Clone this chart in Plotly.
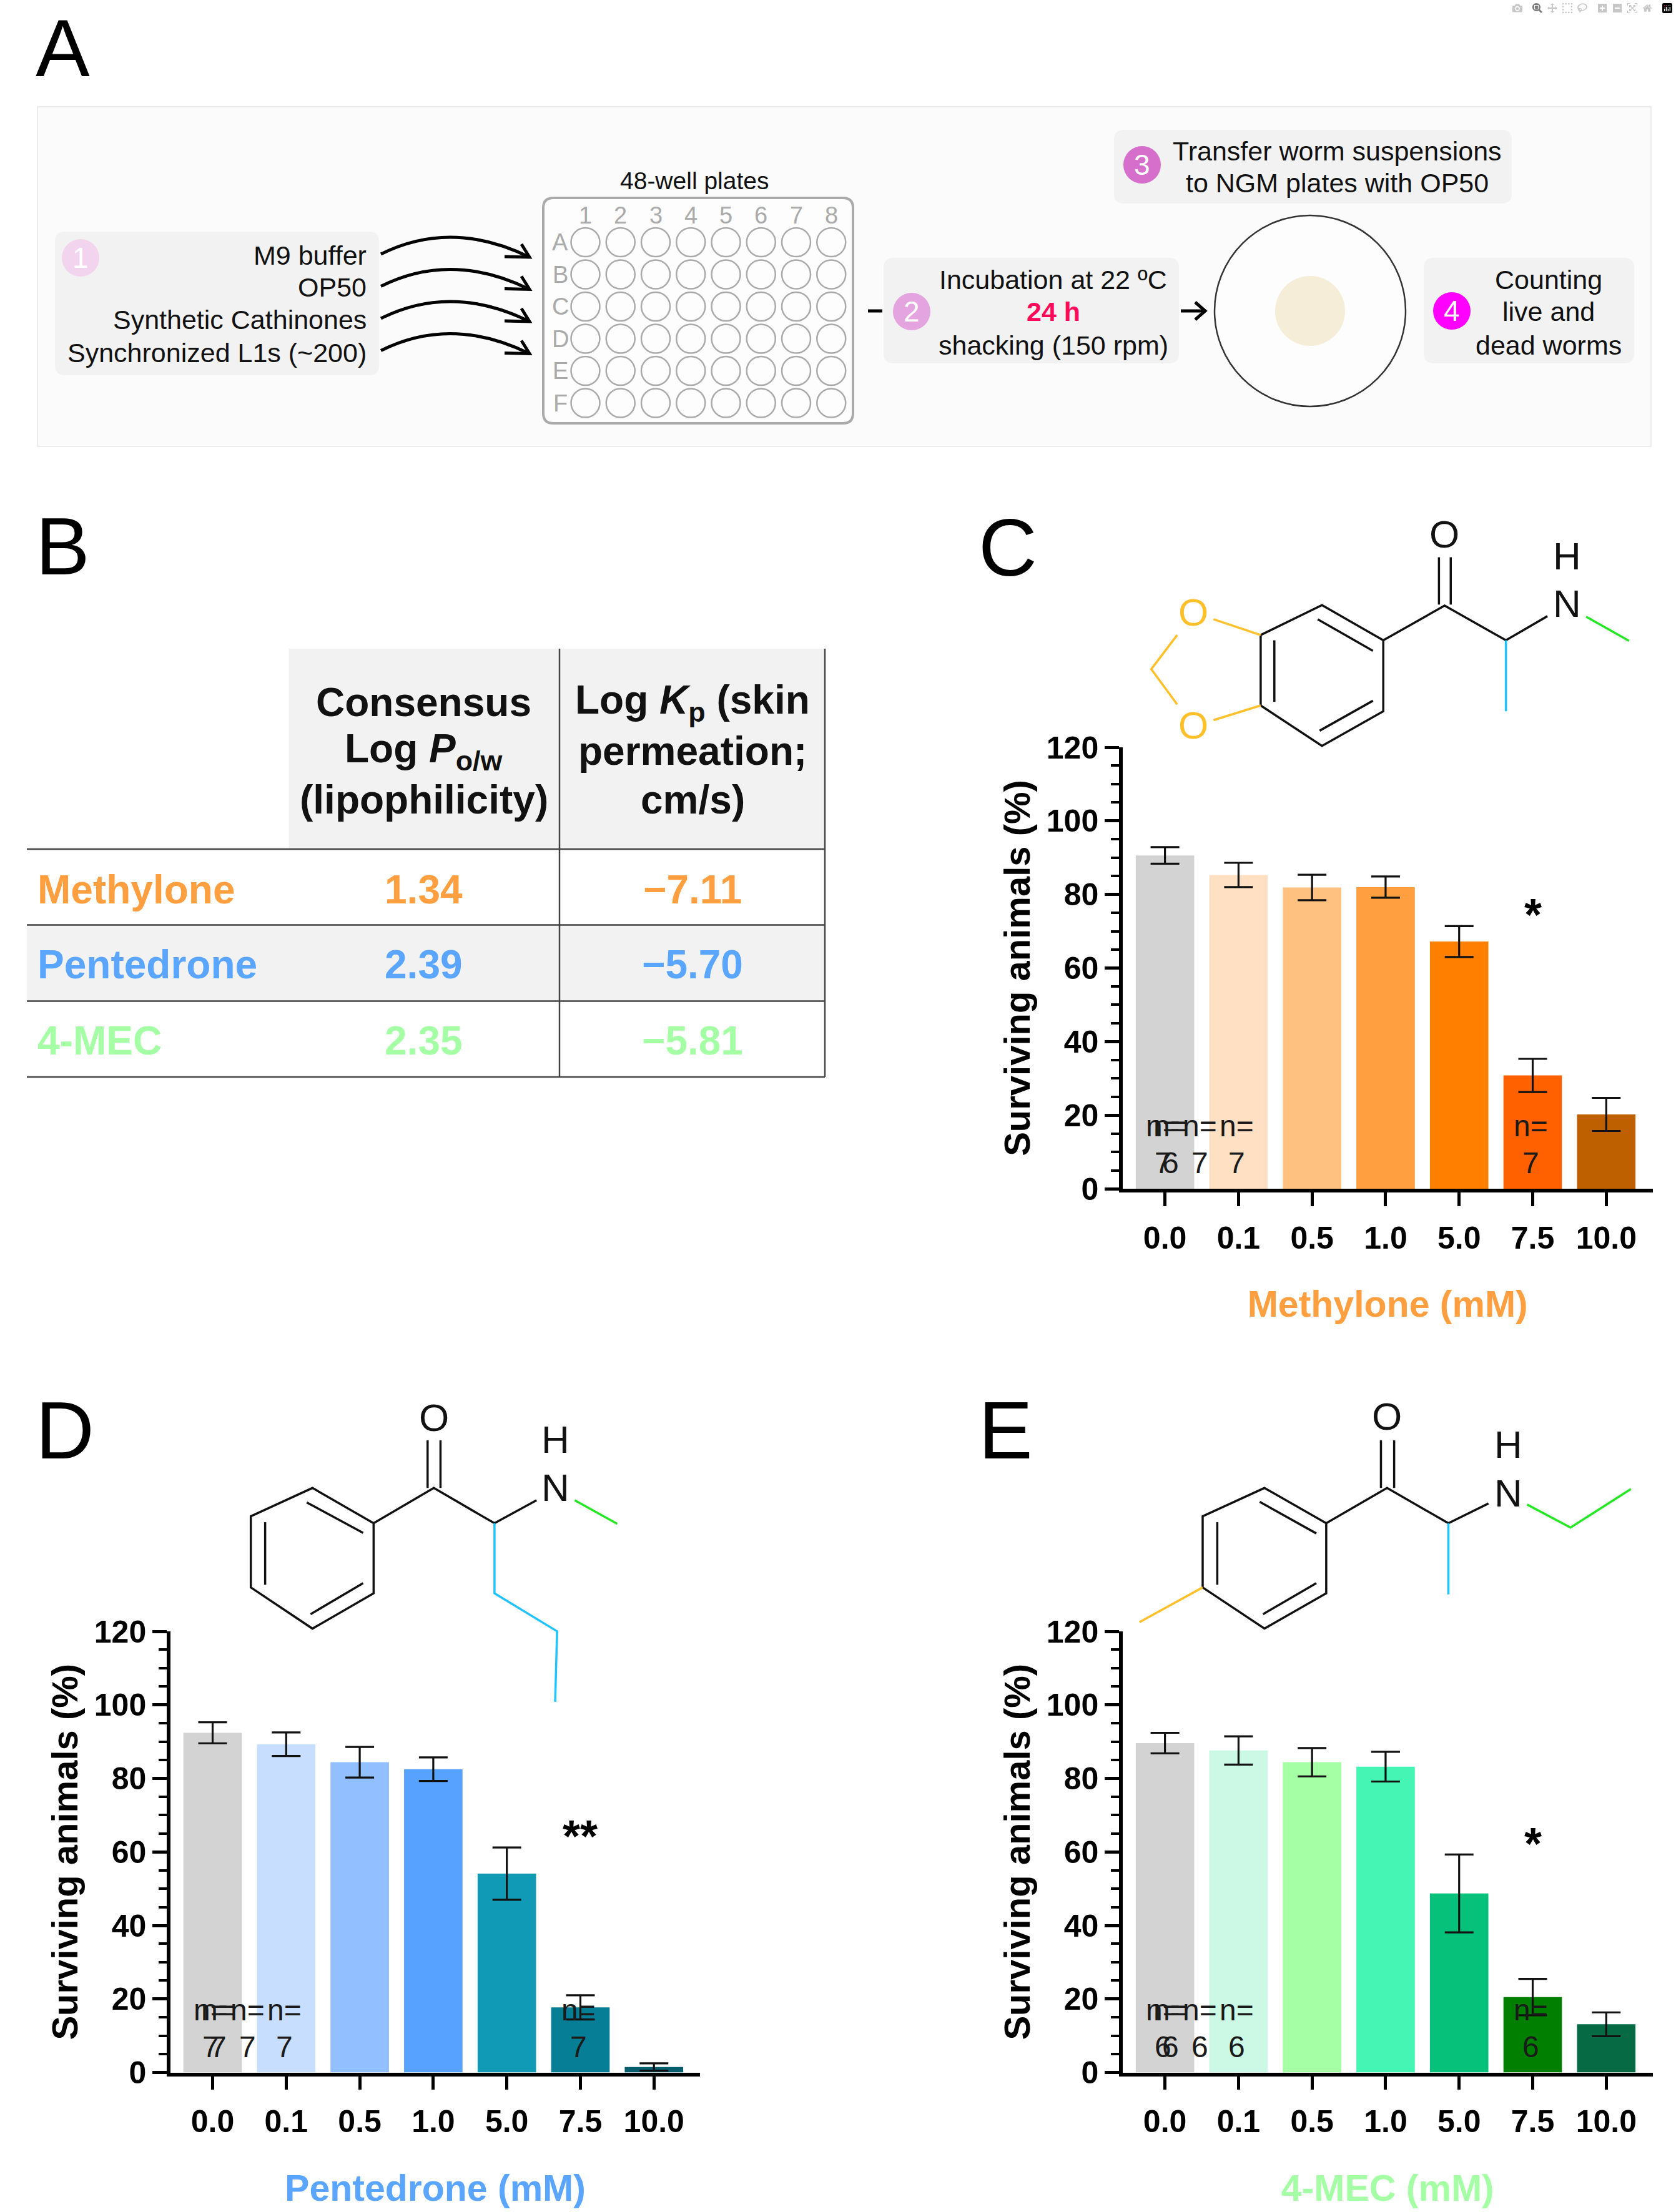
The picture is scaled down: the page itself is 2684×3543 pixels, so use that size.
import plotly.graph_objects as go

W, H = 2684, 3543
FONT = "Liberation Sans"

# ---------- data ----------
doses = ["0.0", "0.1", "0.5", "1.0", "5.0", "7.5", "10.0"]

methylone_mean = [90.6, 85.3, 81.9, 82.0, 67.2, 30.8, 20.2]
methylone_err = [2.25, 3.3, 3.45, 2.9, 4.2, 4.5, 4.5]
methylone_colors = ["#d3d3d3", "#ffe0c2", "#ffc17f", "#ff9f40", "#ff8000", "#ff6000", "#bf6000"]
methylone_n = ["7", "6", "7", "7", "7", "5", "n=6"]
methylone_stars = ["", "", "", "", "*", "***", "****"]
methylone_star_y = [0, 0, 0, 0, 77.1, 40.6, 30.7]

pentedrone_mean = [92.4, 89.3, 84.4, 82.5, 54.1, 17.7, 1.5]
pentedrone_err = [2.85, 3.2, 4.15, 3.2, 7.1, 3.3, 1.0]
pentedrone_colors = ["#d3d3d3", "#c8deff", "#91bfff", "#57a2ff", "#109ab5", "#067e96", "#055e6e"]
pentedrone_n = ["7", "7", "7", "7", "7", "n=5", "n=6"]
pentedrone_stars = ["", "", "", "", "**", "**", "****"]
pentedrone_star_y = [0, 0, 0, 0, 66.8, 26.1, 15.9]

mec_mean = [89.6, 87.6, 84.4, 83.2, 48.7, 20.5, 13.1]
mec_err = [2.8, 3.85, 3.85, 4.05, 10.6, 4.95, 3.25]
mec_colors = ["#d3d3d3", "#ccf9e6", "#a5ffa5", "#44f5b3", "#06c17a", "#007f00", "#066b44"]
mec_n = ["6", "6", "6", "6", "6", "n=5", "n=6"]
mec_stars = ["", "", "", "", "*", "**", "***"]
mec_star_y = [0, 0, 0, 0, 64.8, 30.8, 29.8]

compounds = ["Methylone", "Pentedrone", "4-MEC"]
compound_colors = ["#ff9f40", "#5aa5ff", "#a5ffa5"]
log_p = ["1.34", "2.39", "2.35"]
log_k = ["−7.11", "−5.70", "−5.81"]

# ---------- helpers ----------
px = lambda x: x / W
py = lambda y: 1 - y / H
shapes, notes = [], []


def text(x, y, s, size, color="#111", bold=False, anchor="center", **kw):
    if bold:
        s = f"<b>{s}</b>"
    notes.append(dict(x=px(x), y=py(y), xref="paper", yref="paper", text=s, showarrow=False,
                      xanchor=anchor, yanchor="middle", align=anchor,
                      font=dict(family=FONT, size=size, color=color), **kw))


def rect(x0, y0, x1, y1, fill, line=None, lw=0):
    shapes.append(dict(type="rect", xref="paper", yref="paper", x0=px(x0), x1=px(x1), y0=py(y0), y1=py(y1),
                       fillcolor=fill, line=dict(color=line or fill, width=lw), layer="below"))


def rrect(x0, y0, x1, y1, r, fill, line=None, lw=0):
    X0, X1, Y0, Y1 = px(x0), px(x1), py(y0), py(y1)
    rx, ry = r / W, r / H
    d = (f"M{X0+rx},{Y0} L{X1-rx},{Y0} Q{X1},{Y0} {X1},{Y0-ry} L{X1},{Y1+ry} Q{X1},{Y1} {X1-rx},{Y1} "
         f"L{X0+rx},{Y1} Q{X0},{Y1} {X0},{Y1+ry} L{X0},{Y0-ry} Q{X0},{Y0} {X0+rx},{Y0} Z")
    shapes.append(dict(type="path", xref="paper", yref="paper", path=d, fillcolor=fill,
                       line=dict(color=line or fill, width=lw), layer="below"))


def circle(cx, cy, r, fill="rgba(0,0,0,0)", line=None, lw=0):
    shapes.append(dict(type="circle", xref="paper", yref="paper", x0=px(cx - r), x1=px(cx + r),
                       y0=py(cy + r), y1=py(cy - r), fillcolor=fill,
                       line=dict(color=line or fill, width=lw), layer="below"))


def poly(pts, color="#111", lw=3.5):
    d = "M" + " L".join(f"{px(x)},{py(y)}" for x, y in pts)
    shapes.append(dict(type="path", xref="paper", yref="paper", path=d,
                       line=dict(color=color, width=lw), layer="above"))


# ---------- panel letters ----------
for s, x, y in [("A", 100, 77), ("B", 100, 875), ("C", 1614, 877), ("D", 104, 2291), ("E", 1610, 2291)]:
    text(x, y, s, 130, "#000")

# ---------- panel A ----------
rect(60, 171, 2644, 715, "#fbfbfb", "#e6e6e6", 1.5)
rrect(88, 371, 607, 601, 16, "#f2f2f2")
rrect(1415, 413, 1888, 582, 16, "#f2f2f2")
rrect(1784, 208, 2421, 326, 16, "#f2f2f2")
rrect(2280, 413, 2617, 582, 16, "#f2f2f2")
for s, x, y, c in [("1", 129, 413, "#f3d4ee"), ("2", 1460, 499, "#e3a4df"),
                   ("3", 1829, 264, "#d66fcb"), ("4", 2325, 498, "#ff00ff")]:
    circle(x, y, 30, c)
    text(x, y, s, 46, "#ffffff")
for s, y in zip(["M9 buffer", "OP50", "Synthetic Cathinones", "Synchronized L1s (~200)"], [409, 460, 512, 565]):
    text(589, y, s, 43, anchor="right")
for i in range(4):
    o = 51.5 * i
    xa, ya = px(610), py(407 + o)
    xc, yc = px(723), py(350.5 + o)
    xb, yb = px(848), py(412 + o)
    shapes.append(dict(type="path", xref="paper", yref="paper", path=f"M{xa},{ya} Q{xc},{yc} {xb},{yb}",
                       line=dict(color="#000", width=5)))
    poly([(835, 391 + o), (848, 412 + o), (808, 411 + o)], "#000", 5)
rrect(870, 317, 1366, 678, 16, "#fdfdfd", "#aaaaaa", 4)
text(1112, 289, "48-well plates", 39)
for c in range(8):
    text(937.5 + 56.25 * c, 345, str(c + 1), 38, "#aaaaaa")
for r in range(6):
    text(897, 388 + 51.5 * r, "ABCDEF"[r], 38, "#aaaaaa")
    for c in range(8):
        circle(937.5 + 56.25 * c, 388 + 51.5 * r, 23, "rgba(0,0,0,0)", "#aaaaaa", 2.5)
poly([(1390, 498), (1413, 498)], "#000", 5)
poly([(1891, 498), (1928, 498)], "#000", 5)
poly([(1914, 484), (1930, 498), (1914, 512)], "#000", 5)
text(1687, 448, "Incubation at 22 ºC", 43)
text(1687, 499, "24 h", 43, "#ff0a5a", bold=True)
text(1687, 553, "shacking (150 rpm)", 43)
text(2141, 242, "Transfer worm suspensions", 43)
text(2141, 293, "to NGM plates with OP50", 43)
circle(2098, 498, 153, "#fdfdfd", "#333333", 2.5)
circle(2098, 498, 56, "#f5edd8")
text(2480, 448, "Counting", 43)
text(2480, 499, "live and", 43)
text(2480, 553, "dead worms", 43)

# ---------- panel B table ----------
rect(462.5, 1039, 1321, 1360, "#f2f2f2")
rect(43, 1481.6, 1321, 1603.4, "#f2f2f2")
for y in [1360, 1481.6, 1603.4, 1725]:
    poly([(43, y), (1321, y)], "#444444", 2.5)
for x in [896, 1321]:
    poly([(x, 1039), (x, 1725)], "#444444", 2.5)
text(678.6, 1125, "Consensus", 64, bold=True)
text(678.6, 1203, "Log <i>P</i><sub>o/w</sub>", 64, bold=True)
text(678.6, 1281, "(lipophilicity)", 64, bold=True)
text(1109, 1125, "Log <i>K</i><sub>p</sub> (skin", 64, bold=True)
text(1109, 1203, "permeation;", 64, bold=True)
text(1109, 1281, "cm/s)", 64, bold=True)
for name, color, p, k, y in zip(compounds, compound_colors, log_p, log_k, [1424.6, 1544.6, 1666.5]):
    text(58, y, name, 64, color, bold=True, anchor="left")
    text(678.6, y, p, 64, color, bold=True)
    text(1109, y, k, 64, color, bold=True)

# ---------- molecules ----------
CY, GR, YE = "#1fc3ff", "#22e822", "#ffc02a"


def molecule(sx, sy, ox, oy, lines, labels):
    for pts, color in lines:
        poly([(ox + x / sx, oy + y / sy) for x, y in pts], color)
    for s, x, y, color in labels:
        text(ox + x / sx, oy + y / sy, s, 62, color)


K = "#111111"
molecule(1.324, 1.188, 1500, 800, [
    ([(687, 258), (817, 201), (947, 268), (947, 403), (817, 469), (687, 392), (687, 258)], K),
    ([(808, 228), (925, 288)], K), ([(925, 383), (812, 440)], K), ([(716, 268), (716, 385)], K),
    ([(1065, 110), (1065, 200)], K), ([(1090, 110), (1090, 200)], K),
    ([(947, 268), (1077, 202), (1207, 268), (1295, 222)], K),
    ([(1207, 268), (1207, 403)], CY), ([(1377, 223), (1468, 269)], GR),
    ([(587, 228), (687, 258)], YE), ([(587, 420), (687, 392)], YE), ([(510, 258), (455, 323), (510, 390)], YE),
], [("O", 1076, 66, K), ("H", 1336, 107, K), ("N", 1336, 198, K), ("O", 544, 214, YE), ("O", 544, 430, YE)])

molecule(1.307, 1.1675, 0, 2200, [
    ([(782, 280), (654, 214), (525, 267), (525, 400), (654, 477), (782, 411), (782, 280)], K),
    ([(642, 241), (760, 298)], K), ([(555, 278), (555, 395)], K), ([(650, 450), (760, 392)], K),
    ([(895, 125), (895, 214)], K), ([(922, 125), (922, 214)], K),
    ([(782, 280), (908, 214), (1035, 280), (1123, 237)], K),
    ([(1203, 237), (1292, 281)], GR), ([(1035, 280), (1035, 411), (1166, 482), (1162, 614)], CY),
], [("O", 908, 82, K), ("H", 1162, 123, K), ("N", 1162, 213, K)])

molecule(1.324, 1.1675, 1500, 2200, [
    ([(826, 280), (695, 214), (564, 267), (564, 400), (695, 477), (826, 411), (826, 280)], K),
    ([(685, 240), (805, 299)], K), ([(595, 278), (595, 395)], K), ([(692, 450), (805, 392)], K),
    ([(942, 125), (942, 214)], K), ([(970, 125), (970, 214)], K),
    ([(826, 280), (955, 214), (1085, 280), (1170, 243)], K),
    ([(1252, 245), (1344, 288), (1472, 216)], GR), ([(1085, 280), (1085, 413)], CY),
    ([(564, 400), (430, 465)], YE),
], [("O", 955, 80, K), ("H", 1212, 133, K), ("N", 1212, 223, K)])

# ---------- charts ----------
fig = go.Figure()


def chart(idx, x_left, x_right, y_bottom, y_top, xr, mean, err, colors, ns, stars, star_y, title, tcolor):
    ax = "" if idx == 1 else str(idx)
    fig.add_trace(go.Bar(x=doses, y=mean, marker=dict(color=colors, line=dict(width=0)), width=0.795,
                         error_y=dict(type="data", array=err, color="#111111", thickness=3.2, width=23),
                         xaxis=f"x{ax}", yaxis=f"y{ax}", showlegend=False))
    common = dict(showline=True, linecolor="#000", linewidth=5.5, ticks="outside", tickcolor="#000",
                  showgrid=False, zeroline=False,
                  tickfont=dict(family=FONT, size=50, color="#000", weight="bold"))
    fig.update_layout({
        f"xaxis{ax}": dict(common, type="category", categoryorder="array", categoryarray=doses,
                           domain=[px(x_left), px(x_right)], range=xr, anchor=f"y{ax}", ticklen=22, tickwidth=5,
                           ticklabelstandoff=8,
                           title=dict(text=f"<b>{title}</b>", standoff=60,
                                      font=dict(family=FONT, size=59, color=tcolor))),
        f"yaxis{ax}": dict(common, domain=[py(y_bottom), py(y_top)], range=[0, 120], anchor=f"x{ax}", dtick=20,
                           ticklen=23, tickwidth=5,
                           minor=dict(dtick=5, tick0=0, ticklen=13, tickwidth=4, ticks="outside", tickcolor="#000"),
                           title=dict(text="<b>Surviving animals (%)</b>", standoff=10,
                                      font=dict(family=FONT, size=58, color="#000"))),
    })
    for d, n, st, sy in zip(doses, ns, stars, star_y):
        a = dict(xref=f"x{ax}", yref=f"y{ax}", showarrow=False, xanchor="center", yanchor="middle")
        fn = dict(family=FONT, size=48, color="#1a1a1a")
        if n.startswith("n="):
            pass
        else:
            fig.add_annotation(x=d, y=17, text="n=", font=fn, xshift=-3, **a)
            fig.add_annotation(x=d, y=7, text=n, font=fn, xshift=-3, **a)
        if st:
            fig.add_annotation(x=d, y=sy, text=f"<b>{st}</b>", yshift=-15,
                               font=dict(family=FONT, size=72, color="#000"), **a)


chart(1, 1798, 2646.5, 1904, 1197, [-0.574, 6.63], methylone_mean, methylone_err, methylone_colors,
      methylone_n, methylone_stars, methylone_star_y, "Methylone (mM)", compound_colors[0])
chart(2, 273, 1121, 3319.5, 2613, [-0.573, 6.626], pentedrone_mean, pentedrone_err, pentedrone_colors,
      pentedrone_n, pentedrone_stars, pentedrone_star_y, "Pentedrone (mM)", compound_colors[1])
chart(3, 1798, 2646.5, 3319.5, 2613, [-0.574, 6.63], mec_mean, mec_err, mec_colors,
      mec_n, mec_stars, mec_star_y, "4-MEC (mM)", compound_colors[2])

# individually placed one-line sample-size labels
one_line = [("x", "y", "10.0", 6.4, "n=6"), ("x2", "y2", "7.5", 6.6, "n=5"), ("x2", "y2", "10.0", 6.2, "n=6"),
            ("x3", "y3", "7.5", 6.9, "n=5"), ("x3", "y3", "10.0", 20.9, "n=6")]
for xr_, yr_, d, v, s in one_line:
    fig.add_annotation(x=d, y=v, text=s, xref=xr_, yref=yr_, showarrow=False,
                       font=dict(family=FONT, size=48, color="#1a1a1a"))
# 7.5 mM Methylone shows the two-line form and is handled by the loop above

fig.update_layout(width=W, height=H, margin=dict(l=0, r=0, t=0, b=0, autoexpand=False),
                  paper_bgcolor="#ffffff", plot_bgcolor="rgba(0,0,0,0)", barmode="overlay",
                  font=dict(family=FONT), shapes=shapes)
for a in notes:
    fig.add_annotation(a)

fig.write_html("out.html", post_script="document.body.style.margin='0';")
